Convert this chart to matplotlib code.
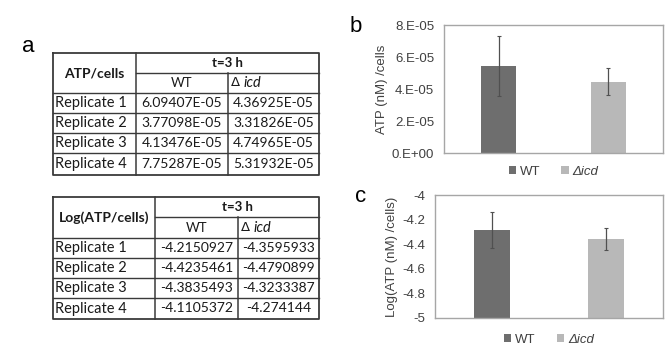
import numpy as np
import matplotlib
matplotlib.use('Agg')
import matplotlib.pyplot as plt

# dados das tabelas (ATP/cells e Log) - t = 3 h
replicates = ['Replicate 1', 'Replicate 2', 'Replicate 3', 'Replicate 4']
atp_wt = np.array([6.09407E-05, 3.77098E-05, 4.13476E-05, 7.75287E-05])
atp_icd = np.array([4.36925E-05, 3.31826E-05, 4.74965E-05, 5.31932E-05])
atp_wt_txt = ['6.09407E-05', '3.77098E-05', '4.13476E-05', '7.75287E-05']
atp_icd_txt = ['4.36925E-05', '3.31826E-05', '4.74965E-05', '5.31932E-05']

log_wt = np.array([-4.2150927, -4.4235461, -4.3835493, -4.1105372])
log_icd = np.array([-4.3595933, -4.4790899, -4.3233387, -4.274144])
log_wt_txt = ['-4.2150927', '-4.4235461', '-4.3835493', '-4.1105372']
log_icd_txt = ['-4.3595933', '-4.4790899', '-4.3233387', '-4.274144']

groups = ['WT', 'Δicd']
c_wt = '#6e6e6e'
c_icd = '#b8b8b8'

W, H = 670, 350
fig = plt.figure(figsize=(W / 100, H / 100), dpi=100)
fig.patch.set_facecolor('white')

# --- tabelas (eixo em pixels) ---
tab = fig.add_axes([0, 0, 1, 1])
tab.set_xlim(0, W)
tab.set_ylim(H, 0)
tab.axis('off')

tfont = 'Lato'
lc = '#3a3a3a'
tc = '#1a1a1a'


def draw_table(cols, rows, title, wt_txt, icd_txt):
    x0, x1, x2, x3 = cols
    # bordas externas
    tab.plot([x0, x3, x3, x0, x0], [rows[0], rows[0], rows[-1], rows[-1], rows[0]], color=lc, lw=1.3)
    tab.plot([x1, x3], [rows[1], rows[1]], color=lc, lw=1.0)
    for y in rows[2:-1]:
        tab.plot([x0, x3], [y, y], color=lc, lw=1.0)
    tab.plot([x1, x1], [rows[0], rows[-1]], color=lc, lw=1.1)
    tab.plot([x2, x2], [rows[1], rows[-1]], color=lc, lw=1.1)
    tab.text((x0 + x1) / 2, (rows[0] + rows[2]) / 2, title, ha='center', va='center',
             fontsize=10, fontweight='bold', family=tfont, color=tc)
    tab.text((x1 + x3) / 2, (rows[0] + rows[1]) / 2, 't=3 h', ha='center', va='center',
             fontsize=9.5, fontweight='bold', family=tfont, color=tc)
    tab.text((x1 + x2) / 2, (rows[1] + rows[2]) / 2, 'WT', ha='center', va='center',
             fontsize=9.5, family=tfont, color=tc)
    tab.text(x2 + 3, (rows[1] + rows[2]) / 2, 'Δ', ha='left', va='center',
             fontsize=9.5, family='DejaVu Sans', color=tc)
    tab.text(x2 + 15, (rows[1] + rows[2]) / 2, 'icd', ha='left', va='center',
             fontsize=10.5, style='italic', family=tfont, color=tc)
    for i in range(4):
        yc = (rows[i + 2] + rows[i + 3]) / 2
        tab.text(x0 + 2, yc, replicates[i], ha='left', va='center', fontsize=10.5,
                 family=tfont, color=tc)
        tab.text((x1 + x2) / 2, yc, wt_txt[i], ha='center', va='center', fontsize=10,
                 family=tfont, color=tc)
        tab.text((x2 + x3) / 2, yc, icd_txt[i], ha='center', va='center', fontsize=10,
                 family=tfont, color=tc)


draw_table([53, 136, 228, 319], [53, 73, 93, 113, 133, 153, 175], 'ATP/cells', atp_wt_txt, atp_icd_txt)
draw_table([53, 155, 238, 319], [197, 217, 238, 258, 278, 298, 319], 'Log(ATP/cells)', log_wt_txt, log_icd_txt)

tab.text(28, 46, 'a', fontsize=16, ha='center', va='center', family='Liberation Sans')
tab.text(356, 27, 'b', fontsize=16, ha='center', va='center', family='Liberation Sans')
tab.text(361, 197, 'c', fontsize=16, ha='center', va='center', family='Liberation Sans')


# --- gráficos de barras ---
def bar_panel(rect, vals_wt, vals_icd, bottom, ylim, yticks, ytl, ylabel, leg_y):
    ax = fig.add_axes(rect)
    means = [vals_wt.mean(), vals_icd.mean()]
    sds = [vals_wt.std(ddof=1), vals_icd.std(ddof=1)]
    x = np.arange(2)
    bars = ax.bar(x, np.array(means) - bottom, bottom=bottom, width=0.32,
                  color=[c_wt, c_icd], zorder=2)
    ax.errorbar(x, means, yerr=sds, fmt='none', ecolor='#505050', elinewidth=0.9,
                capsize=1.2, capthick=0.8, zorder=3)
    ax.set_xlim(-0.5, 1.5)
    ax.set_ylim(*ylim)
    ax.set_xticks([])
    ax.set_yticks(yticks)
    ax.set_yticklabels(ytl, fontsize=9.5, family='Liberation Sans', color='#404040')
    ax.tick_params(axis='y', length=0, pad=7)
    for s in ax.spines.values():
        s.set_color('#a6a6a6')
        s.set_linewidth(1.0)
    ax.set_ylabel(ylabel, fontsize=9.5, family='Liberation Sans', color='#404040', labelpad=3)
    leg = ax.legend(bars, groups, loc='center', bbox_to_anchor=(0.5, leg_y),
                    ncol=2, frameon=False, handlelength=0.55, handleheight=0.55,
                    handletextpad=0.3, columnspacing=1.6,
                    prop={'family': 'Liberation Sans', 'size': 9.5})
    for t in leg.get_texts():
        t.set_color('#404040')
    leg.get_texts()[1].set_style('italic')
    return ax


bar_panel([444 / W, 1 - 153 / H, 219 / W, 128 / H], atp_wt, atp_icd, 0,
          (0, 8e-5), [0, 2e-5, 4e-5, 6e-5, 8e-5],
          ['0.E+00', '2.E-05', '4.E-05', '6.E-05', '8.E-05'],
          'ATP (nM) /cells', -0.145)

bar_panel([435 / W, 1 - 318 / H, 228 / W, 123 / H], log_wt, log_icd, -5,
          (-5, -4), [-5, -4.8, -4.6, -4.4, -4.2, -4],
          ['-5', '-4.8', '-4.6', '-4.4', '-4.2', '-4'],
          'Log(ATP (nM) /cells)', -0.18)

plt.savefig('out.png', dpi=100)
